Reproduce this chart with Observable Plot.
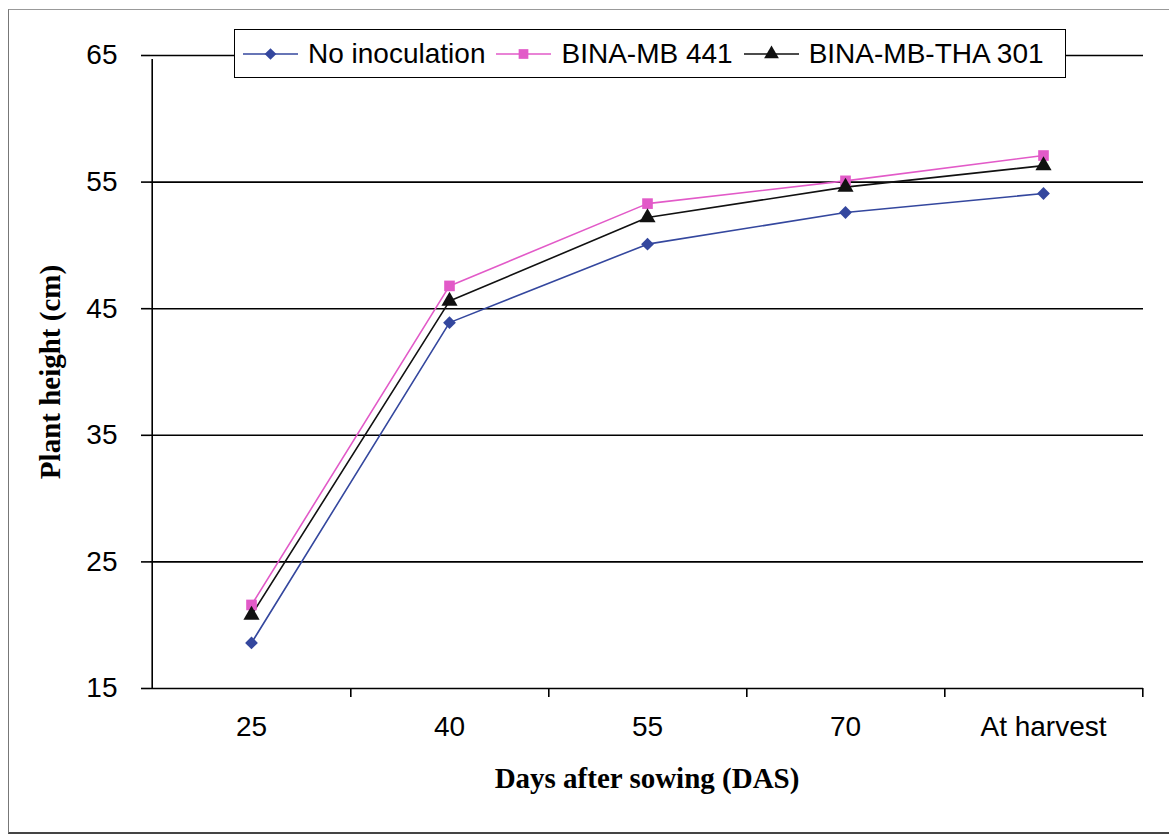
<!DOCTYPE html>
<html>
<head>
<meta charset="utf-8">
<script src="https://cdn.jsdelivr.net/npm/d3@7"></script>
<script src="https://cdn.jsdelivr.net/npm/@observablehq/plot@0.6"></script>
<style>
  html, body { margin: 0; padding: 0; background: #fff; }
  #wrap { position: relative; width: 1169px; height: 840px; overflow: hidden; background: #fff; }
  #border { position: absolute; left: 8px; top: 9px; width: 1160px; height: 822px;
            border-left: 1.5px solid #777; border-top: 1.5px solid #999; border-bottom: 2px solid #444; }
  #legend { position: absolute; left: 234px; top: 29px; width: 822px; height: 47px;
            border: 1.5px solid #000; background: #fff; display: flex; align-items: center;
            padding-left: 8px; box-sizing: content-box;
            font-family: "Liberation Sans", Arial, sans-serif; font-size: 28px; color: #000; }
  .item { display: flex; align-items: center; margin-right: 11px; }
  .item svg { margin-right: 10px; }
</style>
</head>
<body>
<div id="wrap">
  <div id="border"></div>
  <div id="chart"></div>
  <div id="legend"></div>
</div>
<script>
// ---- data ----
const categories = ["25", "40", "55", "70", "At harvest"];
const seriesNames = ["No inoculation", "BINA-MB 441", "BINA-MB-THA 301"];
const noInoculation = [18.6, 43.9, 50.1, 52.6, 54.1];
const binaMB441     = [21.6, 46.8, 53.3, 55.1, 57.1];
const binaMBTHA301  = [20.8, 45.6, 52.2, 54.6, 56.3];
const yTicks = [15, 25, 35, 45, 55, 65];
const colors = ["#34479e", "#e25ac8", "#111111"];

// Excel-like diamond: square rotated 45 degrees
const squareDiamond = {
  draw(context, size) {
    const r = Math.sqrt(size / 2) * 0.85;
    context.moveTo(0, -r); context.lineTo(r, 0); context.lineTo(0, r); context.lineTo(-r, 0); context.closePath();
  }
};
const symbols = [squareDiamond, d3.symbolSquare, d3.symbolTriangle];

const seriesValues = [noInoculation, binaMB441, binaMBTHA301];
const rows = [];
seriesNames.forEach((s, si) => {
  categories.forEach((c, ci) => rows.push({series: s, cat: c, value: seriesValues[si][ci]}));
});

const W = 1169, H = 840, mL = 150, mR = 26, mT = 55, mB = 152;
const half = (W - mL - mR) / categories.length / 2;
const titleFont = "'Liberation Serif', 'Times New Roman', serif";

const chart = Plot.plot({
  width: W, height: H,
  marginLeft: mL, marginRight: mR, marginTop: mT, marginBottom: mB,
  style: {fontFamily: "'Liberation Sans', Arial, sans-serif", fontSize: "28px", background: "transparent", color: "#000", overflow: "visible"},
  x: {type: "point", domain: categories, padding: 0.5, label: null},
  y: {domain: [15, 65], label: null},
  color: {domain: seriesNames, range: colors},
  symbol: {domain: seriesNames, range: symbols},
  marks: [
    Plot.ruleY(yTicks, {stroke: "#000", strokeWidth: 1.6}),
    Plot.ruleX([categories[0]], {x: d => d, y1: 15, y2: 65, dx: -half, stroke: "#000", strokeWidth: 1.6, insetBottom: -4}),
    Plot.ruleX(categories, {x: d => d, y1: 15, y2: 15, dx: half, insetBottom: -9, stroke: "#000", strokeWidth: 1.6}),
    Plot.axisY({ticks: yTicks, tickSize: 9, tickPadding: 24, strokeWidth: 1.6, label: null}),
    Plot.axisX({tickSize: 0, tickPadding: 28, label: null}),
    Plot.line(rows, {x: "cat", y: "value", z: "series", stroke: "series", strokeWidth: 1.6}),
    Plot.dot(rows, {x: "cat", y: "value", symbol: "series", fill: "series", r: 6}),
    Plot.text(["Plant height (cm)"], {frameAnchor: "left", textAnchor: "middle", lineAnchor: "middle", dx: -100, rotate: -90,
      fontFamily: titleFont, fontWeight: "bold", fontSize: 29, fill: "#000"}),
    Plot.text(["Days after sowing (DAS)"], {frameAnchor: "bottom", textAnchor: "middle", lineAnchor: "middle", dy: 90,
      fontFamily: titleFont, fontWeight: "bold", fontSize: 29, fill: "#000"})
  ]
});
document.getElementById("chart").appendChild(chart);

// ---- legend ----
const legend = d3.select("#legend");
seriesNames.forEach((s, i) => {
  const item = legend.append("div").attr("class", "item");
  const svg = item.append("svg").attr("width", 55).attr("height", 20);
  svg.append("line").attr("x1", 0).attr("x2", 55).attr("y1", 10).attr("y2", 10)
     .attr("stroke", colors[i]).attr("stroke-width", 1.6);
  svg.append("path").attr("d", d3.symbol(symbols[i], Math.PI * 30)())
     .attr("transform", "translate(27.5,10)").attr("fill", colors[i]);
  item.append("span").text(s);
});
</script>
</body>
</html>
